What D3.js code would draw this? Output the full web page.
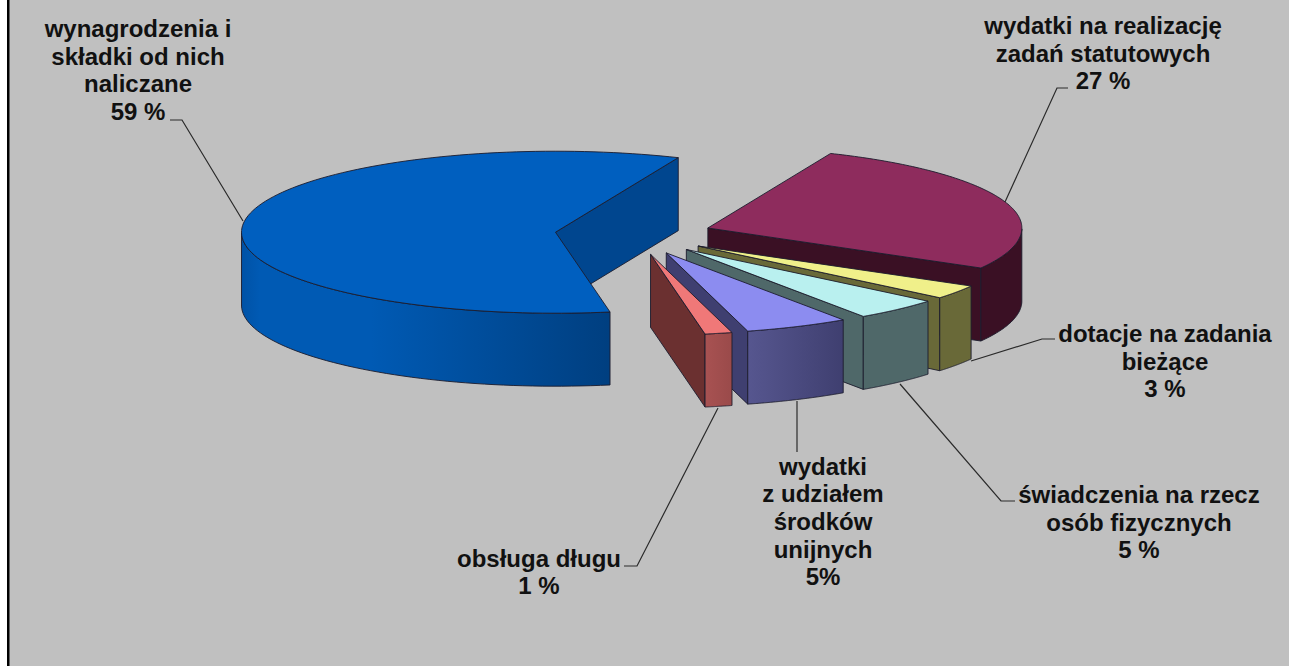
<!DOCTYPE html>
<html>
<head>
<meta charset="utf-8">
<script src="https://cdn.jsdelivr.net/npm/d3@7/dist/d3.min.js"></script>
<style>
html,body{margin:0;padding:0;background:#fff;overflow:hidden}
svg{display:block}
text{font-family:"Liberation Sans",Arial,sans-serif;font-weight:700;font-size:24px;fill:#111;text-anchor:middle}
</style>
</head>
<body>
<div id="chart"></div>
<script>
// ---- data ----
const categories = ["wynagrodzenia i składki od nich naliczane","wydatki na realizację zadań statutowych","dotacje na zadania bieżące","świadczenia na rzecz osób fizycznych","wydatki z udziałem środków unijnych","obsługa długu"];
const shares = [59.17, 26.83, 2.8, 4.45, 5.35, 1.4];
const labelLines = [
  ["wynagrodzenia i","składki od nich","naliczane","59 %"],
  ["wydatki na realizację","zadań statutowych","27 %"],
  ["dotacje na zadania","bieżące","3 %"],
  ["świadczenia na rzecz","osób fizycznych","5 %"],
  ["wydatki","z udziałem","środków","unijnych","5%"],
  ["obsługa długu","1 %"]
];
// ---- styles ----
const topColors  = ["#005fbf","#8e2c5d","#f0f08a","#b9f0ef","#8c8cf0","#f07878"];
const wallFrom   = ["#005ab4","#3a1024","#696938","#4f6869","#56568f","#a85252"];
const wallTo     = ["#003f80","#3a1024","#696938","#4f6869","#3f3f70","#9a4a4a"];
const cutColors  = ["#00468f","#3a1024","#696938","#4f6869","#3f3f70","#6b3030"];
// ---- layout ----
const W = 1289, H = 666;
const cx = 633.5, cy = 234.5, rx = 314, ry = 81, depth = 73;
const explode = 0.25, firstAngle = 170;
const labelAnchors = [[138,37],[1103,34],[1165,342],[1139,503],[823,474.5],[539,566.5]];
const lineGap = 27.7;
const leaders = [
  [[170,120],[182,120],[243,221]],
  [[1068,88],[1057,88],[1005,202]],
  [[1055,339],[1042,339],[971,361]],
  [[1015,501],[1001,501],[900,384]],
  [[797,452],[797,401]],
  [[624,566],[637,566],[718,408]]
];

const svg = d3.select("#chart").append("svg").attr("width",W).attr("height",H);
svg.append("rect").attr("width",W).attr("height",H).attr("fill","#fff");
svg.append("rect").attr("x",9).attr("y",0).attr("width",W-9).attr("height",H).attr("fill","#c0c0c0");
svg.append("rect").attr("x",7).attr("y",0).attr("width",2.5).attr("height",H).attr("fill","#000");

const xs = d3.scaleLinear().domain([-1,1]).range([cx-rx,cx+rx]);
const ys = d3.scaleLinear().domain([-1,1]).range([cy-ry,cy+ry]);
const line = d3.line().x(d=>d[0]).y(d=>d[1]);
const pie = d3.pie().sort(null).value(d=>d)
  .startAngle(firstAngle*Math.PI/180).endAngle((firstAngle+360)*Math.PI/180);
const arcs = pie(shares);

const defs = svg.append("defs");
arcs.forEach((a,i)=>{
  const g = defs.append("linearGradient").attr("id","wall"+i).attr("x1",0).attr("x2",1).attr("y1",0).attr("y2",0);
  if(i===0){ g.append("stop").attr("offset",0).attr("stop-color","#0052a6");
             g.append("stop").attr("offset",0.05).attr("stop-color","#005ab4");
             g.append("stop").attr("offset",0.35).attr("stop-color","#005ab4"); }
  else g.append("stop").attr("offset",0).attr("stop-color",wallFrom[i]);
  g.append("stop").attr("offset",1).attr("stop-color",wallTo[i]);
});

const stroke = {stroke:"#1c1c2c","stroke-width":0.9,"stroke-linejoin":"round"};
function addPath(sel,d,fill){
  sel.append("path").attr("d",d).attr("fill",fill)
    .attr("stroke",stroke.stroke).attr("stroke-width",stroke["stroke-width"]).attr("stroke-linejoin",stroke["stroke-linejoin"]);
}
const layer = svg.append("g");

arcs.forEach((a,i)=>{
  const mid = (a.startAngle+a.endAngle)/2;
  const ox = explode*Math.sin(mid), oy = -explode*Math.cos(mid);
  const pt = (th,dz=0)=>[xs(ox+Math.sin(th)), ys(oy-Math.cos(th))+dz];
  const apex = (dz=0)=>[xs(ox), ys(oy)+dz];
  const steps = d3.range(0,121).map(k=>a.startAngle+(a.endAngle-a.startAngle)*k/120);
  const g = layer.append("g").attr("class","slice").attr("data-name",categories[i]);

  const cut = (th)=>{
    const p = [apex(),pt(th),pt(th,depth),apex(depth)];
    addPath(g,line(p)+"Z",cutColors[i]);
  };
  cut(a.endAngle);

  const front = steps.filter(t=>Math.cos(t)<0);
  if(front.length>1){
    const upper = front.map(t=>pt(t));
    const lower = front.map(t=>pt(t,depth)).reverse();
    addPath(g,line(upper.concat(lower))+"Z","url(#wall"+i+")");
  }
  addPath(g,line([apex()].concat(steps.map(t=>pt(t))))+"Z",topColors[i]);
});

svg.append("g").selectAll("path").data(leaders).join("path")
  .attr("d",d=>line(d)).attr("fill","none").attr("stroke","#2a2a2a").attr("stroke-width",1.2);

const lab = svg.append("g").selectAll("text").data(labelLines).join("text")
  .attr("x",(d,i)=>labelAnchors[i][0]).attr("y",(d,i)=>labelAnchors[i][1]);
lab.selectAll("tspan").data((d,i)=>d.map(s=>({s,i}))).join("tspan")
  .attr("x",d=>labelAnchors[d.i][0]).attr("dy",(d,k)=>k?lineGap:0).text(d=>d.s);
</script>
</body>
</html>
